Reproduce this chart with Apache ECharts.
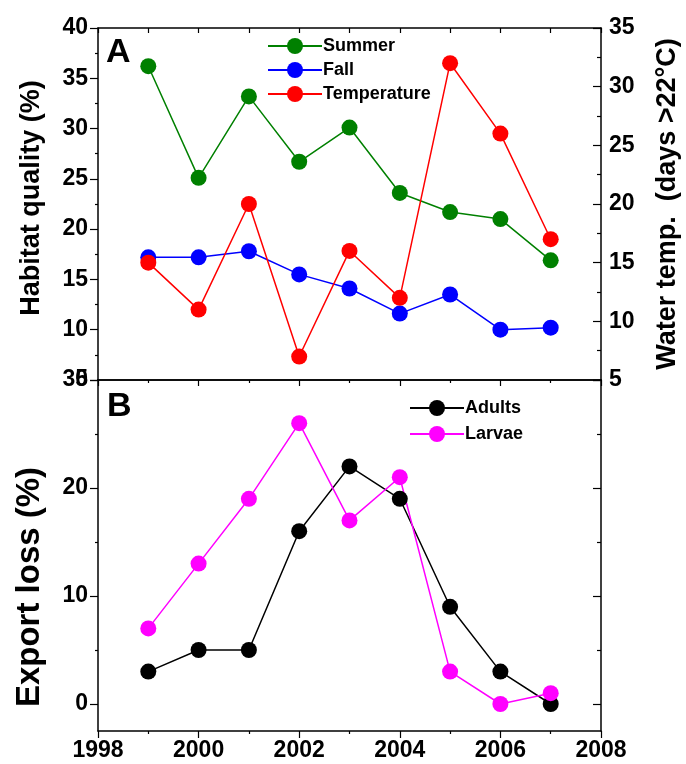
<!DOCTYPE html>
<html>
<head>
<meta charset="utf-8">
<script src="https://cdn.jsdelivr.net/npm/echarts@6/dist/echarts.min.js"></script>
<style>
  html, body { margin: 0; padding: 0; background: #fff; }
  #chart { width: 686px; height: 764px; }
</style>
</head>
<body>
<div id="chart"></div>
<script>
// data
var years = [1999, 2000, 2001, 2002, 2003, 2004, 2005, 2006, 2007];
var summer = [36.2, 25.1, 33.2, 26.7, 30.1, 23.6, 21.7, 21.0, 16.9];
var fall = [17.2, 17.2, 17.8, 15.5, 14.1, 11.6, 13.5, 10.0, 10.2];
var temperature = [15.0, 11.0, 20.0, 7.0, 16.0, 12.0, 32.0, 26.0, 17.0];
var adults = [3, 5, 5, 16, 22, 19, 9, 3, 0];
var larvae = [7, 13, 19, 26, 17, 21, 3, 0, 1];
var exportTicks = [0, 10, 20, 30];
var exportMinor = [5, 15, 25];

var font = "Liberation Sans";
var black = "#000";

function pairs(vals) {
  return years.map(function (y, i) { return [y, vals[i]]; });
}

function line(name, vals, color, xi, yi) {
  return {
    name: name,
    type: "line",
    xAxisIndex: xi,
    yAxisIndex: yi,
    data: pairs(vals),
    symbol: "circle",
    symbolSize: 16,
    color: color,
    lineStyle: { color: color, width: 1.5 },
    itemStyle: { color: color },
    emphasis: { disabled: true },
  };
}

var axisLine = { show: true, onZero: false, lineStyle: { color: black, width: 1.5 } };
var tickLabel = { color: black, fontFamily: font, fontWeight: "bold", fontSize: 23 };

var chart = echarts.init(document.getElementById("chart"));
var option = {
  animation: false,
  backgroundColor: "#fff",
  grid: [
    { left: 98, top: 28, width: 503, height: 352 },
    { left: 98, top: 380, width: 503, height: 351 },
  ],
  xAxis: [
    // panel A bottom (shared line)
    { type: "value", gridIndex: 0, min: 1998, max: 2008, interval: 2, position: "bottom",
      axisLine: axisLine, axisTick: { show: false }, axisLabel: { show: false }, splitLine: { show: false } },
    // panel A top
    { type: "value", gridIndex: 0, min: 1998, max: 2008, interval: 1, position: "top",
      axisLine: axisLine, axisTick: { inside: true, length: 5, lineStyle: { color: black, width: 1.2 } },
      axisLabel: { show: false }, splitLine: { show: false } },
    // panel B bottom
    { type: "value", gridIndex: 1, min: 1998, max: 2008, interval: 2, position: "bottom",
      axisLine: axisLine,
      axisTick: { length: 7, lineStyle: { color: black, width: 1.2 } },
      minorTick: { show: true, splitNumber: 2, length: 3, lineStyle: { color: black, width: 1.2 } },
      axisLabel: Object.assign({ margin: 8, formatter: function (v) { return String(v); } }, tickLabel),
      splitLine: { show: false } },
    // panel B top
    { type: "value", gridIndex: 1, min: 1998, max: 2008, interval: 2, position: "top",
      axisLine: axisLine,
      axisTick: { inside: true, length: 6, lineStyle: { color: black, width: 1.2 } },
      minorTick: { show: true, splitNumber: 2, length: 3, lineStyle: { color: black, width: 1.2 } },
      axisLabel: { show: false }, splitLine: { show: false } },
  ],
  yAxis: [
    // habitat quality
    { type: "value", gridIndex: 0, min: 5, max: 40, interval: 5, position: "left",
      axisLine: axisLine,
      axisTick: { length: 8, lineStyle: { color: black, width: 1.2 } },
      minorTick: { show: true, splitNumber: 2, length: 3, lineStyle: { color: black, width: 1.2 } },
      axisLabel: Object.assign({ margin: 10 }, tickLabel),
      splitLine: { show: false } },
    // water temp
    { type: "value", gridIndex: 0, min: 5, max: 35, interval: 5, position: "right",
      axisLine: axisLine,
      axisTick: { inside: true, length: 8, lineStyle: { color: black, width: 1.2 } },
      minorTick: { show: true, splitNumber: 2, length: 4, lineStyle: { color: black, width: 1.2 } },
      axisLabel: Object.assign({ margin: 8 }, tickLabel),
      splitLine: { show: false } },
    // export loss
    { type: "value", gridIndex: 1, min: -2.5, max: 30, position: "left",
      axisLine: axisLine,
      axisTick: { length: 8, customValues: exportTicks, lineStyle: { color: black, width: 1.2 } },
      axisLabel: Object.assign({ margin: 10, customValues: exportTicks }, tickLabel),
      splitLine: { show: false } },
    { type: "value", gridIndex: 1, min: -2.5, max: 30, position: "left",
      axisLine: { show: false },
      axisTick: { length: 3, customValues: exportMinor, lineStyle: { color: black, width: 1.2 } },
      axisLabel: { show: false }, splitLine: { show: false } },
    // panel B right side, ticks only
    { type: "value", gridIndex: 1, min: -2.5, max: 30, position: "right",
      axisLine: axisLine,
      axisTick: { inside: true, length: 8, customValues: exportTicks, lineStyle: { color: black, width: 1.2 } },
      axisLabel: { show: false }, splitLine: { show: false } },
    { type: "value", gridIndex: 1, min: -2.5, max: 30, position: "right",
      axisLine: { show: false },
      axisTick: { inside: true, length: 4, customValues: exportMinor, lineStyle: { color: black, width: 1.2 } },
      axisLabel: { show: false }, splitLine: { show: false } },
  ],
  legend: [
    { data: ["Summer", "Fall", "Temperature"], orient: "vertical", left: 262, top: 32,
      itemWidth: 54, itemHeight: 20, itemGap: 6,
      textStyle: { color: black, fontFamily: font, fontWeight: "bold", fontSize: 18, padding: [0, 0, 0, -4] } },
    { data: ["Adults", "Larvae"], orient: "vertical", left: 404, top: 394,
      itemWidth: 54, itemHeight: 20, itemGap: 8,
      textStyle: { color: black, fontFamily: font, fontWeight: "bold", fontSize: 18, padding: [0, 0, 0, -4] } },
  ],
  graphic: [
    { type: "text", left: 106, top: 36, style: { text: "A", fill: black, font: "bold 34px 'Liberation Sans'" } },
    { type: "text", left: 107, top: 390, style: { text: "B", fill: black, font: "bold 34px 'Liberation Sans'" } },
    { type: "text", x: 32, y: 198, rotation: Math.PI / 2,
      style: { text: "Habitat quality (%)", fill: black, font: "bold 27px 'Liberation Sans'", align: "center", verticalAlign: "middle" } },
    { type: "text", x: 668, y: 204, rotation: Math.PI / 2,
      style: { text: "Water temp.  (days >22°C)", fill: black, font: "bold 27px 'Liberation Sans'", align: "center", verticalAlign: "middle" } },
    { type: "text", x: 30, y: 587, rotation: Math.PI / 2,
      style: { text: "Export loss (%)", fill: black, font: "bold 33px 'Liberation Sans'", align: "center", verticalAlign: "middle" } },
  ],
  series: [
    line("Summer", summer, "#008000", 0, 0),
    line("Fall", fall, "#0000ff", 0, 0),
    line("Temperature", temperature, "#ff0000", 0, 1),
    line("Adults", adults, "#000000", 2, 2),
    line("Larvae", larvae, "#ff00ff", 2, 2),
  ],
};
chart.setOption(option);
window.addEventListener("resize", function () {
  chart.resize();
});
</script>
</body>
</html>
